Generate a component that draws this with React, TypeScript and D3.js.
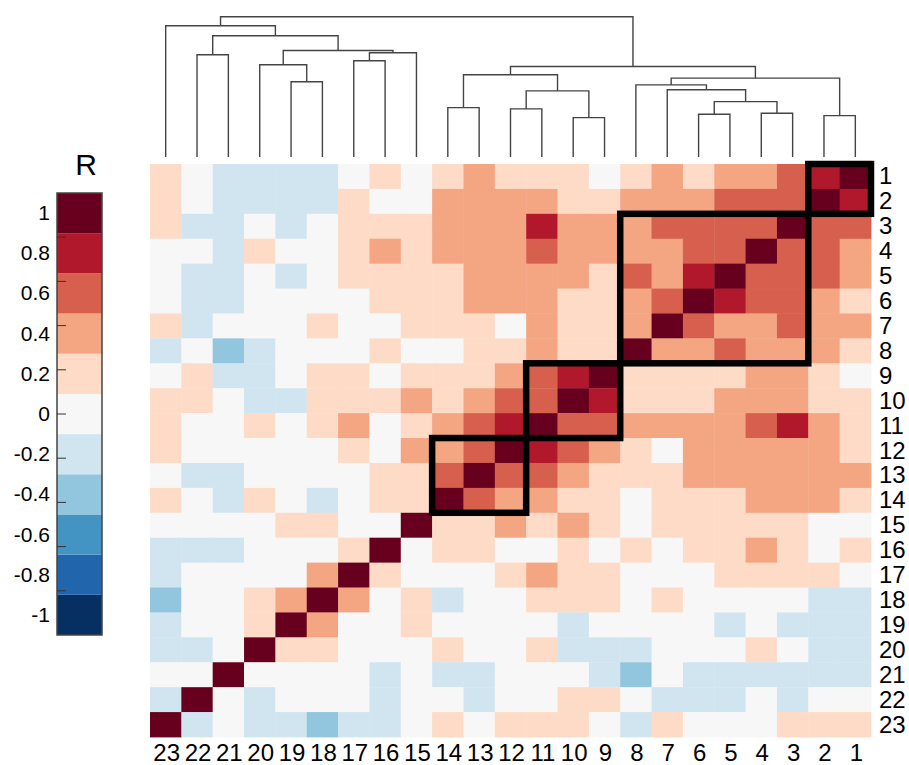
import * as d3 from "d3";

const W = 909;
const H = 765;
const FONT = "'Liberation Sans', Arial, Helvetica, sans-serif";

// variable order along the columns (dendrogram leaf order) and down the rows
const leafOrder = [23, 22, 21, 20, 19, 18, 17, 16, 15, 14, 13, 12, 11, 10, 9, 8, 7, 6, 5, 4, 3, 2, 1];
const rowOrder = [1, 2, 3, 4, 5, 6, 7, 8, 9, 10, 11, 12, 13, 14, 15, 16, 17, 18, 19, 20, 21, 22, 23];

// correlation matrix, corr[i][j] = R between variable i+1 and j+1
const corr = [
  [1, .75, .55, .38, .38, .18, .38, .18, 0, .18, .18, .18, .38, .18, 0, .18, 0, -.18, -.18, -.18, -.18, 0, .18],
  [.75, 1, .55, .55, .55, .38, .38, .38, .18, .18, .38, .38, .38, .38, 0, 0, .18, -.18, -.18, -.18, -.18, 0, .18],
  [.55, .55, 1, .55, .55, .55, .55, .38, .38, .38, .75, .38, .38, .38, .18, .18, .18, 0, -.18, 0, -.18, -.18, .18],
  [.38, .55, .55, 1, .55, .55, .38, .38, .38, .38, .55, .38, .38, .38, .18, .38, .18, 0, 0, .18, -.18, 0, 0],
  [.38, .55, .55, .55, 1, .75, .38, .55, .18, .38, .38, .38, .38, .18, .18, .18, .18, 0, -.18, 0, -.18, -.18, 0],
  [.18, .38, .55, .55, .75, 1, .55, .38, .18, .18, .38, .38, .38, .18, .18, .18, 0, 0, 0, 0, -.18, -.18, 0],
  [.38, .38, .55, .38, .38, .55, 1, .38, .18, .18, .38, 0, .18, .18, .18, 0, 0, .18, 0, 0, 0, -.18, .18],
  [.18, .38, .38, .38, .55, .38, .38, 1, .18, .18, .38, .18, .18, 0, 0, .18, 0, 0, 0, -.18, -.38, 0, -.18],
  [0, .18, .38, .38, .18, .18, .18, .18, 1, .75, .55, .38, .18, .18, .18, 0, .18, .18, 0, -.18, -.18, .18, 0],
  [.18, .18, .38, .38, .38, .18, .18, .18, .75, 1, .55, .55, .38, .18, .38, .18, .18, .18, -.18, -.18, 0, .18, .18],
  [.18, .38, .75, .55, .38, .38, .38, .38, .55, .55, 1, .75, .55, .38, .18, 0, .38, .18, 0, .18, 0, 0, .18],
  [.18, .38, .38, .38, .38, .38, 0, .18, .38, .55, .75, 1, .55, .38, .38, 0, .18, 0, 0, 0, 0, 0, .18],
  [.38, .38, .38, .38, .38, .38, .18, .18, .18, .38, .55, .55, 1, .55, .18, .18, 0, 0, 0, 0, -.18, -.18, 0],
  [.18, .38, .38, .38, .18, .18, .18, 0, .18, .18, .38, .38, .55, 1, .18, .18, 0, -.18, 0, .18, -.18, 0, .18],
  [0, 0, .18, .18, .18, .18, .18, 0, .18, .38, .18, .38, .18, .18, 1, 0, 0, .18, .18, 0, 0, 0, 0],
  [.18, 0, .18, .38, .18, .18, 0, .18, 0, .18, 0, 0, .18, .18, 0, 1, .18, 0, 0, 0, -.18, -.18, -.18],
  [0, .18, .18, .18, .18, 0, 0, 0, .18, .18, .38, .18, 0, 0, 0, .18, 1, .38, 0, 0, 0, 0, -.18],
  [-.18, -.18, 0, 0, 0, 0, .18, 0, .18, .18, .18, 0, 0, -.18, .18, 0, .38, 1, .38, .18, 0, 0, -.38],
  [-.18, -.18, -.18, 0, -.18, 0, 0, 0, 0, -.18, 0, 0, 0, 0, .18, 0, 0, .38, 1, .18, 0, 0, -.18],
  [-.18, -.18, 0, .18, 0, 0, 0, -.18, -.18, -.18, .18, 0, 0, .18, 0, 0, 0, .18, .18, 1, 0, -.18, -.18],
  [-.18, -.18, -.18, -.18, -.18, -.18, 0, -.38, -.18, 0, 0, 0, -.18, -.18, 0, -.18, 0, 0, 0, 0, 1, 0, 0],
  [0, 0, -.18, 0, -.18, -.18, -.18, 0, .18, .18, 0, 0, -.18, 0, 0, -.18, 0, 0, 0, -.18, 0, 1, -.18],
  [.18, .18, .18, 0, 0, 0, .18, -.18, 0, .18, .18, .18, 0, .18, 0, -.18, -.18, -.38, -.18, -.18, 0, -.18, 1],
];

// hierarchical clustering: [left, right, height]; "mK" refers to merge K
const linkage: [string, string, number][] = [
  ["22", "21", 0.729], // m0
  ["19", "18", 0.536], // m1
  ["20", "m1", 0.657], // m2
  ["17", "16", 0.686], // m3
  ["m3", "15", 0.743], // m4
  ["m2", "m4", 0.759], // m5
  ["m0", "m5", 0.864], // m6
  ["23", "m6", 0.936], // m7
  ["14", "13", 0.352], // m8
  ["12", "11", 0.343], // m9
  ["10", "9", 0.281], // m10
  ["m9", "m10", 0.471], // m11
  ["m8", "m11", 0.586], // m12
  ["6", "5", 0.305], // m13
  ["4", "3", 0.312], // m14
  ["m13", "m14", 0.395], // m15
  ["7", "m15", 0.479], // m16
  ["8", "m16", 0.514], // m17
  ["2", "1", 0.295], // m18
  ["m17", "m18", 0.562], // m19
  ["m12", "m19", 0.645], // m20
  ["m7", "m20", 1.0], // m21
];

// clusters outlined on the heatmap (first and last variable)
const clusterBoxes = [[1, 2], [3, 8], [9, 11], [12, 14]];

const legendLabels = ["-1", "-0.8", "-0.6", "-0.4", "-0.2", "0", "0.2", "0.4", "0.6", "0.8", "1"];
const legendTicks = [-0.8, -0.6, -0.4, -0.2, 0, 0.2, 0.4, 0.6, 0.8];

export default function App() {
  const x = d3.scaleBand<string>().domain(leafOrder.map(String)).range([150, 871]);
  const y = d3.scaleBand<string>().domain(rowOrder.map(String)).range([164, 737]);
  const bw = x.bandwidth();
  const bh = y.bandwidth();

  const color = d3
    .scaleQuantize<string>()
    .domain([-1, 1])
    .range(d3.schemeRdBu[11].slice().reverse());

  const hy = d3.scaleLinear().domain([0, 1]).range([157, 16.7]);

  // dendrogram elbows
  const pos = new Map<string, { x: number; h: number }>();
  leafOrder.forEach((v) => pos.set(String(v), { x: (x(String(v)) as number) + bw / 2, h: 0 }));
  const dendroPaths: string[] = [];
  linkage.forEach(([a, b, h], i) => {
    const pa = pos.get(a)!;
    const pb = pos.get(b)!;
    dendroPaths.push(`M${pa.x},${hy(pa.h)}V${hy(h)}H${pb.x}V${hy(pb.h)}`);
    pos.set("m" + i, { x: (pa.x + pb.x) / 2, h });
  });

  const cells: JSX.Element[] = [];
  rowOrder.forEach((r) => {
    leafOrder.forEach((c) => {
      cells.push(
        <rect
          key={`${r}-${c}`}
          x={x(String(c))}
          y={y(String(r))}
          width={bw + 0.4}
          height={bh + 0.4}
          fill={color(corr[r - 1][c - 1])}
        />
      );
    });
  });

  // legend
  const ly = d3.scaleLinear().domain([-1, 1]).range([635, 193]);
  const legendColors = color.range();

  return (
    <svg
      width={W}
      height={H}
      style={{ position: "absolute", left: 0, top: 0, background: "#fff" }}
      fontFamily={FONT}
    >
      <g>{cells}</g>

      <g fill="none" stroke="#444" strokeWidth={1.4}>
        {dendroPaths.map((d, i) => (
          <path key={i} d={d} />
        ))}
      </g>

      <g fill="none" stroke="#000" strokeWidth={6.5}>
        {clusterBoxes.map(([lo, hi], i) => {
          const x0 = x(String(hi)) as number;
          const x1 = (x(String(lo)) as number) + bw;
          const y0 = y(String(lo)) as number;
          const y1 = (y(String(hi)) as number) + bh;
          return <rect key={i} x={x0} y={y0} width={x1 - x0} height={y1 - y0} />;
        })}
      </g>

      <g fontSize={24} fill="#000">
        {rowOrder.map((r) => (
          <text key={r} x={879} y={(y(String(r)) as number) + bh / 2 + 8}>
            {r}
          </text>
        ))}
        {leafOrder.map((c) => (
          <text key={c} x={(x(String(c)) as number) + bw / 2 + 1} y={761} textAnchor="middle">
            {c}
          </text>
        ))}
      </g>

      <g>
        {legendColors.map((col, i) => {
          const [a, b] = color.invertExtent(col);
          return (
            <rect key={i} x={57} y={ly(b)} width={45} height={ly(a) - ly(b)} fill={col} />
          );
        })}
        <rect x={57} y={ly(1)} width={45} height={ly(-1) - ly(1)} fill="none" stroke="#444" strokeWidth={1.5} />
        {legendTicks.map((t) => (
          <line key={t} x1={57} x2={66} y1={ly(t)} y2={ly(t)} stroke="#333" strokeWidth={1} />
        ))}
        {legendColors.map((col, i) => {
          const [a, b] = color.invertExtent(col);
          return (
            <text key={i} x={50} y={ly((a + b) / 2) + 7} textAnchor="end" fontSize={21}>
              {legendLabels[i]}
            </text>
          );
        })}
        <text x={86} y={175} textAnchor="middle" fontSize={30}>
          R
        </text>
      </g>
    </svg>
  );
}
